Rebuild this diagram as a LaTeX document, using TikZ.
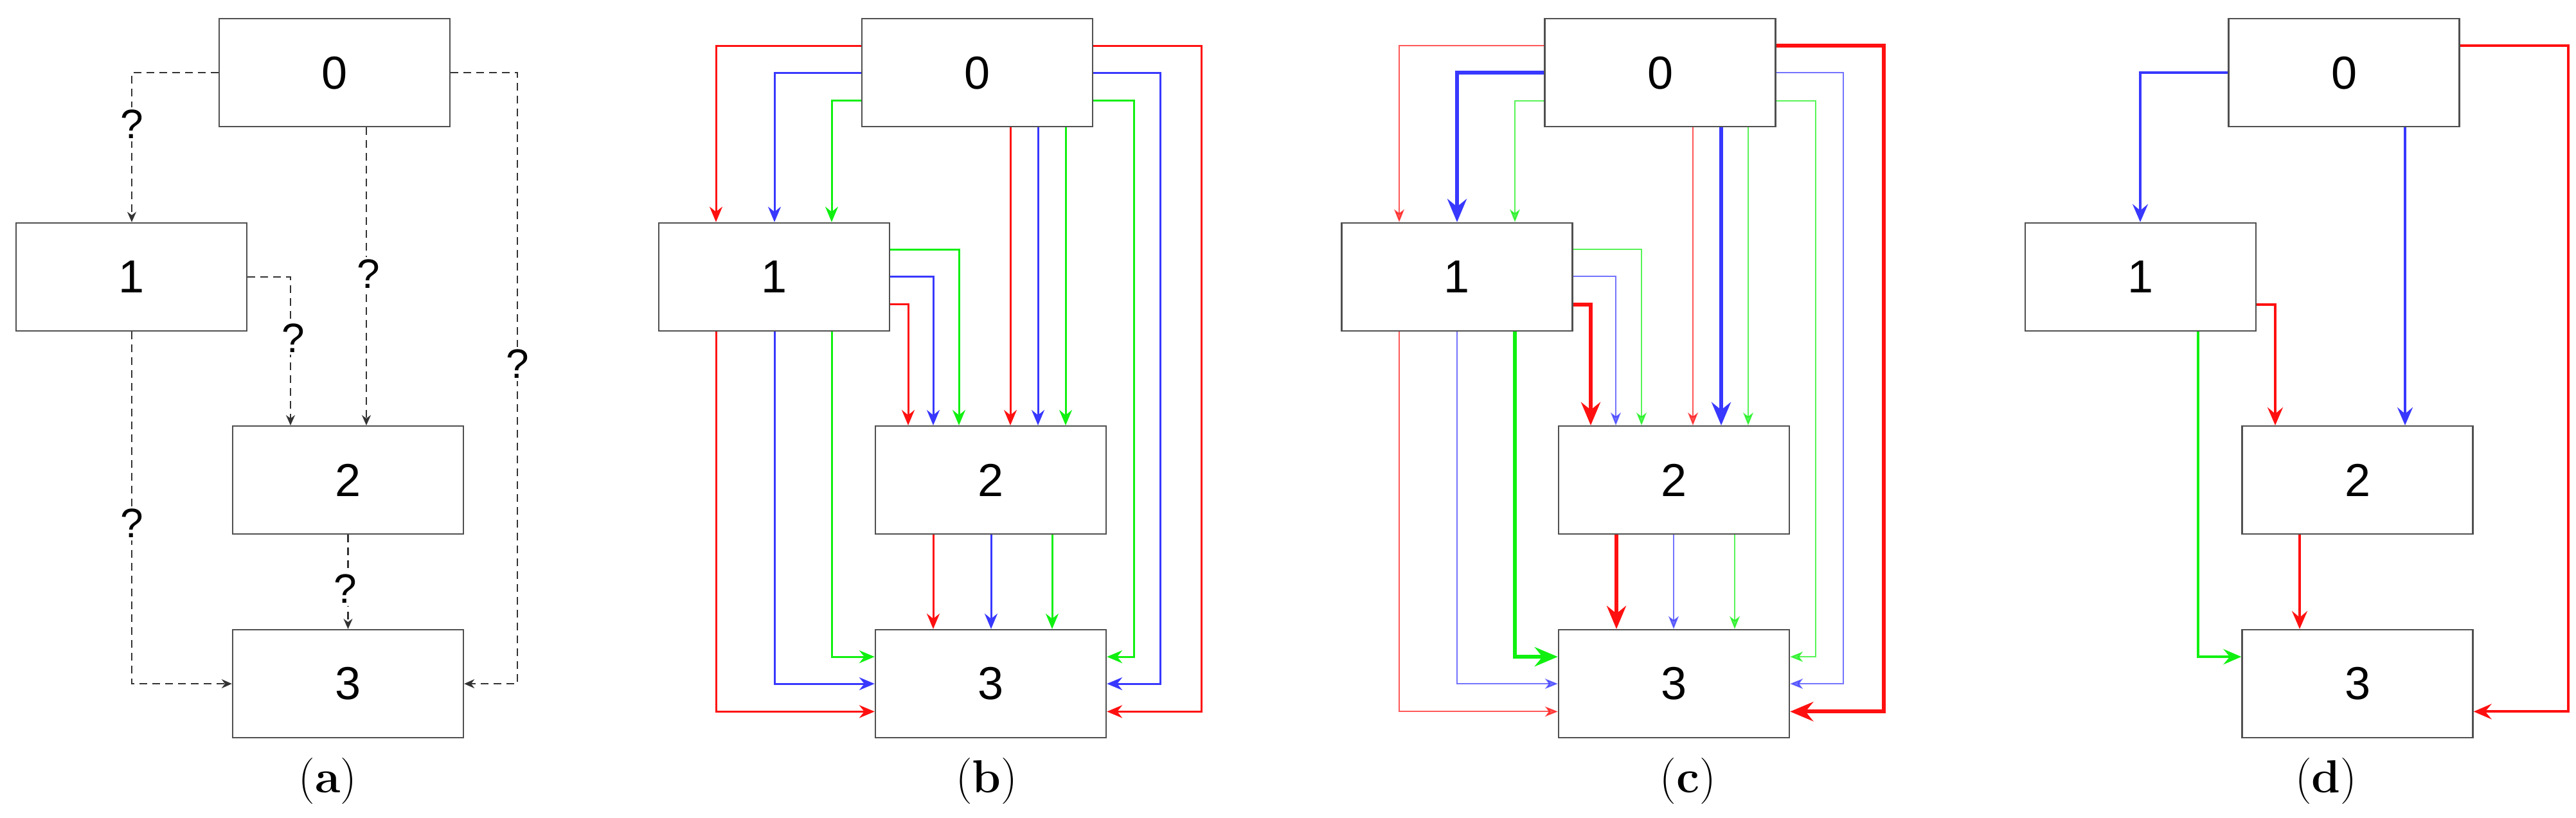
\documentclass[tikz,border=0pt]{standalone}
\usepackage{fontspec}
\newfontfamily\arial{Liberation Sans}
\usetikzlibrary{arrows.meta}
\definecolor{cr}{HTML}{FF1010}
\definecolor{cb}{HTML}{3838FF}
\definecolor{cg}{HTML}{10F010}
\definecolor{bd}{HTML}{505050}
\begin{document}
\begin{tikzpicture}[x=0.25pt,y=-0.3182pt,
  box/.style={draw=bd,line width=0.6pt,fill=white,inner sep=0pt,minimum width=89.75pt,minimum height=42pt,font=\arial\fontsize{18}{20}\selectfont},
  lbl/.style={font=\fontsize{18}{20}\selectfont},
  q/.style={fill=white,inner sep=1pt,font=\arial\fontsize{16}{18}\selectfont},
  dsh/.style={draw=black!80,line width=0.55pt,dash pattern=on 3pt off 2pt,-{Stealth[length=4pt,width=3.5pt]}},
  e/.style={line width=0.75pt,-{Stealth[length=6pt,width=5pt,inset=2pt]}},
  tn/.style={line width=0.5pt,opacity=0.7,-{Stealth[length=5pt,width=4pt,inset=1.5pt]}},
  tk/.style={line width=1.5pt,-{Stealth[length=9pt,width=7.5pt,inset=3pt]}},
  nd/.style={line width=1pt,-{Stealth[length=7pt,width=6pt,inset=2.5pt]}},
  r/.style={draw=cr},b/.style={draw=cb},g/.style={draw=cg}]
\useasboundingbox (0,0) rectangle (4008,1000);
% ---------- (a)
\node[box] (a0) at (520.5,89) {0};
\node[box] (a1) at (204.5,338.5) {1};
\node[box] (a2) at (541.5,587) {2};
\node[box] (a3) at (541.5,836) {3};
\coordinate (aR) at (805,89);
\draw[dsh] (a0.west) -| (a1.north -| 205,0);
\draw[dsh] (a0.south -| 570,0) -- (a2.north -| 570,0);
\draw[dsh] (a1.east) -| (a2.north -| 452,0);
\draw[dsh] (a1.south -| 205,0) |- (a3.west);
\draw[dsh] (a2.south) -- (a3.north);
\draw[dsh] (a0.east) -- (aR) |- (a3.east);
\node[q] at (205,152) {?};
\node[q] at (573,335) {?};
\node[q] at (456,413) {?};
\node[q] at (205,640) {?};
\node[q] at (537,720) {?};
\node[q] at (805,445) {?};
\node[lbl] (la) at (510,955) {(\textbf{a})};
% ---------- (b)
\node[box] (b0) at (1520.5,89) {0};
\node[box] (b1) at (1204.5,338.5) {1};
\node[box] (b2) at (1541.5,587) {2};
\node[box] (b3) at (1541.5,836) {3};
\coordinate (bR1) at (1869,56);
\coordinate (bR2) at (1805,89);
\coordinate (bR3) at (1764,123);
\draw[e,r] (b0.west |- 0,56) -| (b1.north -| 1114,0);
\draw[e,b] (b0.west |- 0,89) -| (b1.north -| 1205,0);
\draw[e,g] (b0.west |- 0,123) -| (b1.north -| 1294,0);
\draw[e,r] (b0.south -| 1572,0) -- (b2.north -| 1572,0);
\draw[e,b] (b0.south -| 1615,0) -- (b2.north -| 1615,0);
\draw[e,g] (b0.south -| 1658,0) -- (b2.north -| 1658,0);
\draw[e,g] (b1.east |- 0,305) -| (b2.north -| 1492,0);
\draw[e,b] (b1.east |- 0,338) -| (b2.north -| 1452,0);
\draw[e,r] (b1.east |- 0,372) -| (b2.north -| 1413,0);
\draw[e,r] (b1.south -| 1114,0) |- (b3.west |- 0,870);
\draw[e,b] (b1.south -| 1205,0) |- (b3.west |- 0,836);
\draw[e,g] (b1.south -| 1294,0) |- (b3.west |- 0,803);
\draw[e,r] (b2.south -| 1452,0) -- (b3.north -| 1452,0);
\draw[e,b] (b2.south -| 1542,0) -- (b3.north -| 1542,0);
\draw[e,g] (b2.south -| 1637,0) -- (b3.north -| 1637,0);
\draw[e,r] (b0.east |- bR1) -- (bR1) |- (b3.east |- 0,870);
\draw[e,b] (b0.east |- bR2) -- (bR2) |- (b3.east |- 0,836);
\draw[e,g] (b0.east |- bR3) -- (bR3) |- (b3.east |- 0,803);
\node[lbl] (lb) at (1535,955) {(\textbf{b})};
% ---------- (c)
\node[box] (c0) at (2583,89) {0};
\node[box] (c1) at (2267,338.5) {1};
\node[box] (c2) at (2604.5,587) {2};
\node[box] (c3) at (2604.5,836) {3};
\coordinate (cR1) at (2931,56);
\coordinate (cR2) at (2868,89);
\coordinate (cR3) at (2825,123);
\draw[tn,r] (c0.west |- 0,56) -| (c1.north -| 2177,0);
\draw[tk,b] (c0.west |- 0,89) -| (c1.north -| 2267,0);
\draw[tn,g] (c0.west |- 0,123) -| (c1.north -| 2357,0);
\draw[tn,r] (c0.south -| 2634,0) -- (c2.north -| 2634,0);
\draw[tk,b] (c0.south -| 2678,0) -- (c2.north -| 2678,0);
\draw[tn,g] (c0.south -| 2720,0) -- (c2.north -| 2720,0);
\draw[tn,g] (c1.east |- 0,305) -| (c2.north -| 2554,0);
\draw[tn,b] (c1.east |- 0,338) -| (c2.north -| 2514,0);
\draw[tk,r] (c1.east |- 0,372) -| (c2.north -| 2475,0);
\draw[tn,r] (c1.south -| 2177,0) |- (c3.west |- 0,870);
\draw[tn,b] (c1.south -| 2267,0) |- (c3.west |- 0,836);
\draw[tk,g] (c1.south -| 2357,0) |- (c3.west |- 0,803);
\draw[tk,r] (c2.south -| 2515,0) -- (c3.north -| 2515,0);
\draw[tn,b] (c2.south -| 2604,0) -- (c3.north -| 2604,0);
\draw[tn,g] (c2.south -| 2699,0) -- (c3.north -| 2699,0);
\draw[tk,r] (c0.east |- cR1) -- (cR1) |- (c3.east |- 0,870);
\draw[tn,b] (c0.east |- cR2) -- (cR2) |- (c3.east |- 0,836);
\draw[tn,g] (c0.east |- cR3) -- (cR3) |- (c3.east |- 0,803);
\node[lbl] (lc) at (2626,955) {(\textbf{c})};
% ---------- (d)
\node[box] (d0) at (3647,89) {0};
\node[box] (d1) at (3330.5,338.5) {1};
\node[box] (d2) at (3668,587) {2};
\node[box] (d3) at (3668,836) {3};
\coordinate (dR) at (3996,56);
\draw[nd,b] (d0.west) -| (d1.north -| 3330,0);
\draw[nd,b] (d0.south -| 3742,0) -- (d2.north -| 3742,0);
\draw[nd,r] (d1.east |- 0,372) -| (d2.north -| 3540,0);
\draw[nd,g] (d1.south -| 3420,0) |- (d3.west |- 0,803);
\draw[nd,r] (d2.south -| 3578,0) -- (d3.north -| 3578,0);
\draw[nd,r] (d0.east |- dR) -- (dR) |- (d3.east |- 0,870);
\node[lbl] (ld) at (3619,955) {(\textbf{d})};
\end{tikzpicture}
\end{document}
